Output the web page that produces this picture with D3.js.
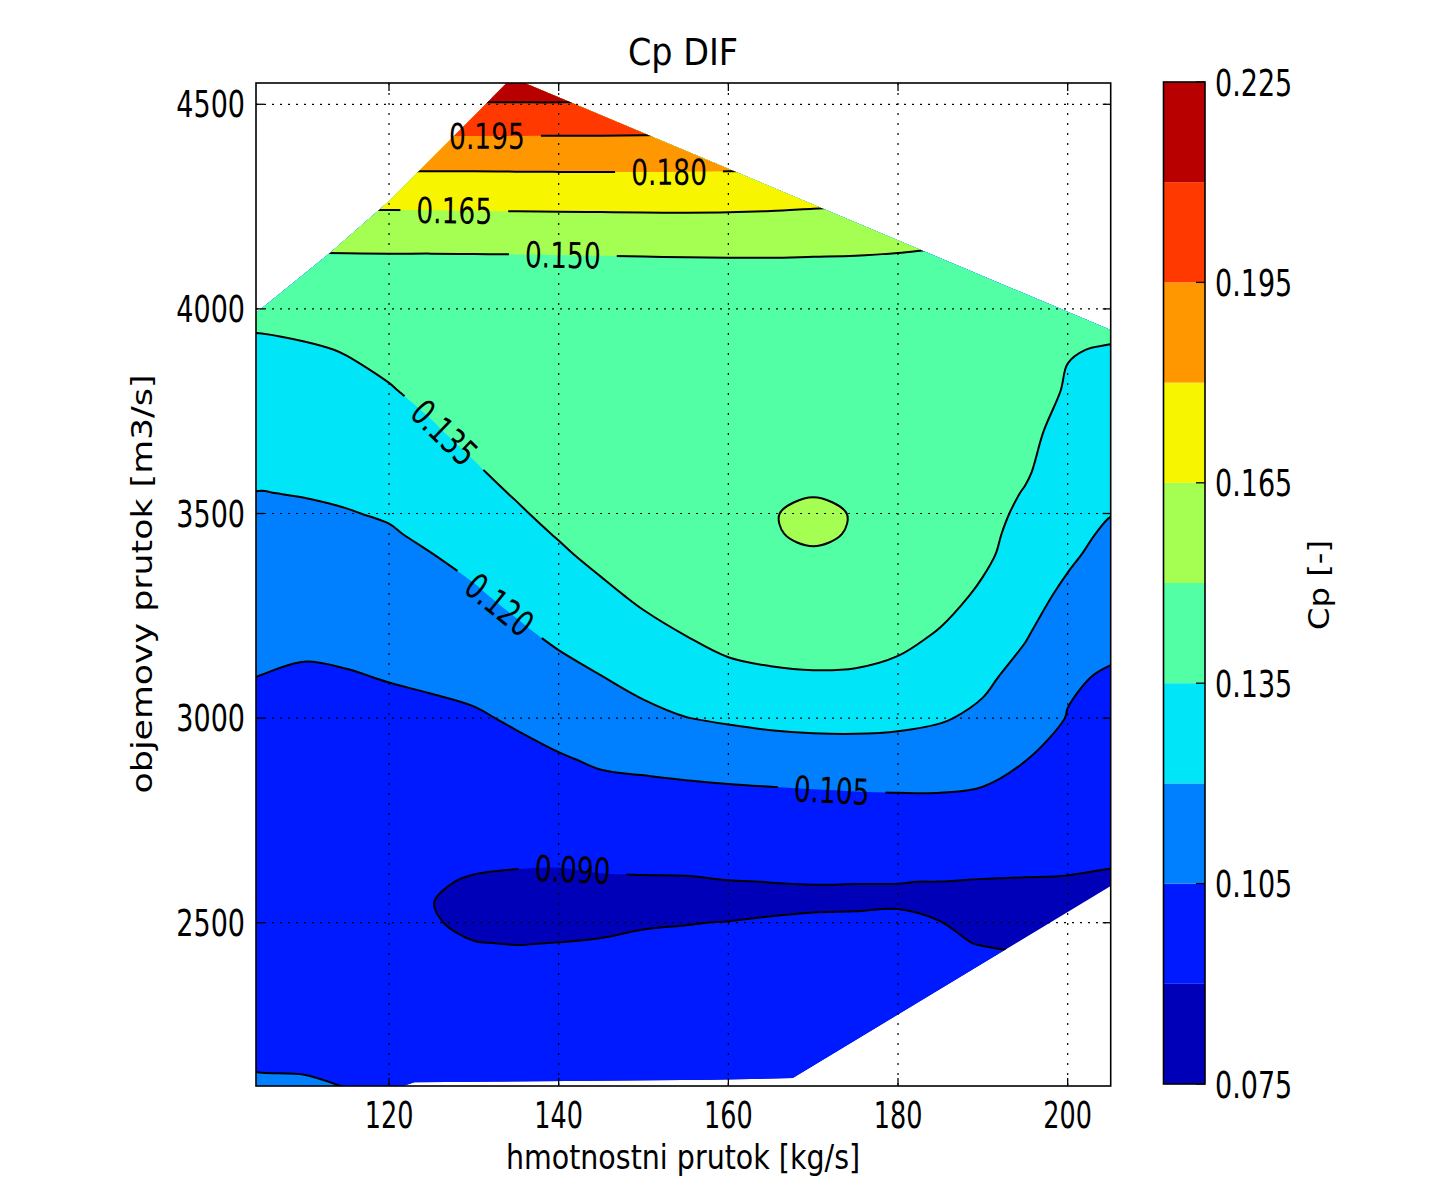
<!DOCTYPE html>
<html>
<head>
<meta charset="utf-8">
<script src="https://cdn.jsdelivr.net/npm/d3@7"></script>
<style>
  body { margin: 0; background: #fff; }
  text { font-family: "DejaVu Sans", sans-serif; fill: #000; }
</style>
</head>
<body>
<svg id="chart" width="1446" height="1179"></svg>
<script>
// grid of the field: columns = mass flow [kg/s], rows = volume flow [m3/s]
const massFlow = [100, 105, 110, 115, 120, 125, 130, 135, 140, 145, 150, 155, 160, 165, 170, 175, 180, 185, 190, 195, 200, 205, 210];
const volumeFlow = [2000, 2100, 2200, 2300, 2400, 2450, 2500, 2550, 2600, 2650, 2700, 2800, 2900, 3000, 3100,
  3200, 3300, 3400, 3450, 3500, 3550, 3600, 3700, 3800, 3900, 4000, 4100, 4200, 4300, 4400, 4500, 4600];

// Cp for each mass flow column, bottom (2000) to top (4600)
const cpColumns = [
  [.1090,.1060,.1037,.1010,.0982,.0968,.0954,.0940,.0951,.0962,.0972,.0994,.1015,.1032,.1062,.1093,.1124,.1155,.11705,.1186,.1203,.1220,.1257,.1294,.1315,.1389,.1445,.1582,.1733,.1907,.2094,.2220],
  [.1090,.1058,.1034,.1006,.0978,.0964,.0949,.0935,.0945,.0956,.0966,.0987,.1007,.1028,.1048,.1081,.1114,.1147,.11635,.1180,.1198,.1216,.1255,.1295,.1320,.1395,.1448,.1585,.1735,.1907,.2094,.2220],
  [.1085,.1058,.1030,.1000,.0971,.0956,.0942,.0932,.0942,.0952,.0962,.0982,.1002,.1022,.1036,.1073,.1111,.1148,.11665,.1185,.12045,.1224,.1263,.1303,.1336,.1405,.1449,.1586,.1735,.1907,.2094,.2220],
  [.1075,.1049,.1019,.0989,.0960,.0945,.0930,.0923,.0934,.0946,.0957,.0979,.1001,.1023,.1042,.1081,.1119,.1157,.1176,.1195,.1215,.1235,.1274,.1314,.1356,.1417,.1451,.1587,.1737,.1908,.2094,.2220],
  [.1065,.1038,.1008,.0979,.0949,.0934,.0919,.0915,.0928,.0940,.0953,.0978,.1003,.1017,.1055,.1093,.1132,.1170,.1190,.1210,.12315,.1253,.1297,.1341,.1388,.1436,.1453,.1588,.1737,.1908,.2094,.2220],
  [.1045,.1018,.0991,.0965,.0938,.0915,.0903,.0901,.0906,.0925,.0950,.0978,.1006,.1025,.1067,.1111,.1154,.1198,.1221,.1244,.1267,.1290,.1336,.1383,.1413,.1450,.1452,.1589,.1738,.1908,.2094,.2220],
  [.1005,.0982,.0959,.0936,.0913,.0901,.08925,.0886,.0895,.0909,.0928,.0965,.1002,.1036,.1085,.1135,.1185,.1235,.1260,.1285,.1310,.1335,.1385,.1410,.1430,.1448,.1453,.1591,.1739,.1908,.2094,.2220],
  [.1000,.0978,.0955,.0933,.0910,.0899,.0889,.0882,.0892,.0905,.0927,.0972,.1016,.1064,.1120,.1176,.1230,.1282,.1308,.1334,.13605,.1387,.1400,.1420,.1440,.1450,.1454,.1593,.1741,.1908,.2094,.2220],
  [.0995,.0974,.0953,.0932,.0911,.09005,.0889,.0879,.0891,.0904,.0934,.0987,.1040,.1100,.1161,.1220,.1275,.1331,.1359,.1387,.1391,.1395,.1410,.1425,.1440,.1450,.1456,.1594,.1743,.1907,.2094,.2220],
  [.0990,.0971,.0951,.0932,.0913,.0903,.0891,.0878,.0893,.0910,.0945,.1005,.1066,.1132,.1197,.1259,.1322,.1384,.13895,.1395,.1400,.1405,.1418,.1432,.1442,.1450,.1459,.1596,.1744,.1907,.2092,.2220],
  [.0985,.0967,.0949,.0931,.0913,.0904,.0898,.0881,.0894,.0912,.0950,.1000,.1083,.1167,.1240,.1307,.1374,.1385,.1390,.1395,.14015,.1408,.1426,.1443,.1450,.1455,.1462,.1598,.1745,.1905,.2090,.2220],
  [.0980,.0964,.0948,.0932,.0915,.0907,.0899,.0885,.0895,.0912,.0955,.1003,.1101,.1198,.1274,.1349,.1375,.1390,.1400,.1410,.1415,.1420,.1431,.1447,.1455,.1460,.1465,.1599,.1744,.1904,.2088,.2220],
  [.0975,.0960,.0945,.0931,.0916,.0908,.0901,.0887,.0898,.0925,.0961,.1009,.1114,.1216,.1306,.1396,.1410,.1430,.1440,.1450,.1443,.1435,.1435,.1450,.1458,.1463,.1467,.1598,.1742,.1902,.2087,.2220],
  [.0970,.0956,.0943,.0929,.0916,.0909,.0905,.0889,.09005,.0933,.0965,.1014,.1126,.1231,.1335,.1391,.1435,.1475,.14947,.1492,.1478,.1445,.1440,.1450,.1460,.1465,.1469,.1594,.1737,.1900,.2085,.2220],
  [.0965,.0952,.0939,.0925,.0912,.0910,.0906,.0894,.0901,.0935,.0968,.1021,.1133,.1239,.1334,.1428,.1465,.14925,.15113,.1530,.14925,.1455,.1450,.1455,.1460,.1465,.1467,.1588,.1727,.1895,.2081,.2210],
  [.0960,.0948,.0936,.0923,.0911,.0907,.0905,.0896,.09005,.0935,.0968,.1027,.1137,.1239,.1330,.1421,.1450,.1475,.14947,.1492,.1478,.1445,.1445,.1452,.1460,.1466,.1465,.1582,.1718,.1888,.2077,.2205],
  [.0955,.0944,.0933,.0921,.0910,.0909,.0908,.0896,.09004,.0935,.0970,.1032,.1136,.1230,.1309,.1388,.1410,.1430,.14375,.1445,.14425,.1440,.1440,.1447,.1455,.1462,.1457,.1574,.1708,.1879,.2070,.2200],
  [.0950,.0940,.0930,.0920,.0910,.0906,.09005,.0893,.08995,.0935,.0968,.1034,.1125,.1211,.1273,.1336,.1400,.1415,.1420,.1425,.14285,.1432,.1438,.1444,.1450,.1450,.1445,.1562,.1694,.1871,.2062,.2190],
  [.0945,.0937,.0929,.0921,.0913,.0898,.0890,.0888,.0897,.0918,.0962,.1028,.1096,.1175,.1225,.1276,.1327,.1378,.13865,.1395,.14025,.1410,.1420,.1430,.1440,.1450,.1465,.1533,.1667,.1855,.2050,.2180],
  [.0940,.0932,.0924,.0916,.0906,.0895,.0888,.0887,.0895,.0918,.0947,.1000,.1053,.1105,.1156,.1208,.1245,.1284,.13035,.1323,.13425,.1362,.1380,.1400,.1420,.1440,.1460,.1520,.1640,.1830,.2030,.2170],
  [.0935,.0928,.0921,.0914,.0903,.0893,.0887,.0886,.0895,.0911,.0931,.0968,.1005,.1046,.1062,.1115,.1175,.1220,.1235,.1250,.1265,.1280,.1310,.1340,.1355,.1390,.1430,.1510,.1630,.1810,.2010,.2160],
  [.0930,.0924,.0918,.0911,.0902,.0893,.0886,.0885,.0891,.0905,.0920,.0950,.0980,.1010,.1040,.1075,.1117,.1159,.11815,.1204,.12215,.1239,.1274,.1308,.1343,.1394,.1420,.1500,.1620,.1790,.1990,.2150],
  [.0925,.0920,.0914,.0908,.0899,.0892,.0886,.0885,.0890,.0902,.0918,.0946,.0975,.1003,.1032,.1060,.1103,.1146,.1168,.1190,.12075,.1225,.1262,.1300,.1338,.1370,.1400,.1480,.1600,.1770,.1970,.2140]
];

// outline of the measured region (outside it the field is undefined)
const hullMass   = [104.0, 121.5, 123.0, 158.0, 167.6, 205.07, 205.07, 134.5, 119.76, 113.24, 104.32];
const hullVolume = [2095, 2100, 2110, 2116, 2120.5, 2590, 3948.5, 4565, 4259, 4140, 3990];

const levels = [0.075, 0.09, 0.105, 0.12, 0.135, 0.15, 0.165, 0.18, 0.195, 0.21, 0.225];
const colorbarTicks = [0.075, 0.105, 0.135, 0.165, 0.195, 0.225];
const xTicks = [120, 140, 160, 180, 200];
const yTicks = [2500, 3000, 3500, 4000, 4500];

// where the inline labels go (data coords), snapped onto the line
const labelSpots = [
  { level: 0.195, x: 131.55, y: 4437 },
  { level: 0.18,  x: 153.0,  y: 4344 },
  { level: 0.165, x: 127.7,  y: 4254 },
  { level: 0.15,  x: 140.5,  y: 4142 },
  { level: 0.135, x: 126.8,  y: 3704 },
  { level: 0.12,  x: 133.1,  y: 3279 },
  { level: 0.105, x: 172.2,  y: 2834 },
  { level: 0.09,  x: 141.7,  y: 2639 }
];

const palette = ['#0000b9', '#001aff', '#0080ff', '#00e5f7', '#52ffa4',
                 '#a4ff52', '#f7f500', '#ff9700', '#ff3900', '#b90000'];

const plot = { left: 256, right: 1110.7, top: 83, bottom: 1086 };
const svg = d3.select('#chart');

const x = d3.scaleLinear().domain([104.32, 205.07]).range([plot.left, plot.right]);
const y = d3.scaleLinear().domain([2101, 4552]).range([plot.bottom, plot.top]);

// flatten grid for d3.contours (row major, row = volume flow index)
const nx = massFlow.length, ny = volumeFlow.length;
const values = new Array(nx * ny);
cpColumns.forEach((col, i) => col.forEach((v, j) => { values[j * nx + i] = v; }));

// contour grid coords -> data (sample i sits at i + 0.5)
const gx = d3.scaleLinear().domain(massFlow.map((d, i) => i + 0.5)).range(massFlow);
const gy = d3.scaleLinear().domain(volumeFlow.map((d, j) => j + 0.5)).range(volumeFlow);
const toPx = ([cx, cy]) => [x(gx(cx)), y(gy(cy))];

const contours = d3.contours().size([nx, ny]).thresholds(levels.slice(0, -1))(values);

// drop points that sit almost on top of each other, they kink the spline
function cleanRing(pts) {
  const out = [];
  pts.forEach(p => {
    const q = out[out.length - 1];
    if (!q || Math.hypot(p[0] - q[0], p[1] - q[1]) > 4) out.push(p);
  });
  if (out.length > 3) {
    const a = out[0], b = out[out.length - 1];
    if (Math.hypot(a[0] - b[0], a[1] - b[1]) < 4) out.pop();
  }
  return out;
}

const smooth = d3.line().curve(d3.curveCatmullRomClosed.alpha(0.5));
const contourPath = c => c.coordinates
  .map(poly => poly.map(ring => smooth(cleanRing(ring.slice(0, -1).map(toPx)))).join(''))
  .join('');

const defs = svg.append('defs');
defs.append('clipPath').attr('id', 'plotClip')
  .append('rect')
  .attr('x', plot.left).attr('y', plot.top)
  .attr('width', plot.right - plot.left).attr('height', plot.bottom - plot.top);
defs.append('clipPath').attr('id', 'hullClip')
  .append('polygon')
  .attr('points', hullMass.map((m, i) => [x(m), y(hullVolume[i])].join(',')).join(' '));

const plotArea = svg.append('g').attr('clip-path', 'url(#plotClip)');
const field = plotArea.append('g').attr('clip-path', 'url(#hullClip)');

field.selectAll('path.band')
  .data(contours)
  .enter()
  .append('path')
  .attr('class', 'band')
  .attr('d', contourPath)
  .attr('fill', (d, i) => palette[i])
  .attr('fill-rule', 'evenodd')
  .attr('stroke', 'none');

// dotted grid
const grid = plotArea.append('g')
  .attr('stroke', '#000').attr('stroke-width', 1.2).attr('fill', 'none');
grid.selectAll('line.gx').data(xTicks).enter().append('line')
  .attr('x1', d => x(d)).attr('x2', d => x(d))
  .attr('y1', plot.top).attr('y2', plot.bottom)
  .attr('stroke-dasharray', '2,8');
grid.selectAll('line.gy').data(yTicks).enter().append('line')
  .attr('y1', d => y(d)).attr('y2', d => y(d))
  .attr('x1', plot.left).attr('x2', plot.right)
  .attr('stroke-dasharray', '2,6');

// contour lines, broken under the labels
const mask = defs.append('mask').attr('id', 'labelMask')
  .attr('maskUnits', 'userSpaceOnUse')
  .attr('x', 0).attr('y', 0).attr('width', 1446).attr('height', 1179);
mask.append('rect').attr('width', 1446).attr('height', 1179).attr('fill', '#fff');

const lineGroup = plotArea.append('g').attr('clip-path', 'url(#hullClip)')
  .append('g').attr('mask', 'url(#labelMask)');
lineGroup.selectAll('path')
  .data(contours.slice(1))
  .enter()
  .append('path')
  .attr('d', contourPath)
  .attr('fill', 'none')
  .attr('stroke', '#000')
  .attr('stroke-width', 2);

function spotOnLine(level, px, py) {
  const c = contours.find(d => Math.abs(d.value - level) < 1e-9);
  let best = { d: Infinity };
  c.coordinates.forEach(poly => poly.forEach(ring => {
    const pts = cleanRing(ring.map(toPx));
    for (let k = 0; k < pts.length - 1; k++) {
      const [ax, ay] = pts[k], [bx, by] = pts[k + 1];
      const dx = bx - ax, dy = by - ay, len2 = dx * dx + dy * dy || 1;
      const t = Math.max(0, Math.min(1, ((px - ax) * dx + (py - ay) * dy) / len2));
      const qx = ax + t * dx, qy = ay + t * dy;
      const dist = Math.hypot(px - qx, py - qy);
      if (dist < best.d) {
        const p0 = pts[Math.max(0, k - 1)], p1 = pts[Math.min(pts.length - 1, k + 2)];
        best = { d: dist, x: qx, y: qy,
                 angle: Math.atan2(p1[1] - p0[1], p1[0] - p0[0]) * 180 / Math.PI };
      }
    }
  }));
  if (best.angle > 90) best.angle -= 180;
  if (best.angle < -90) best.angle += 180;
  return best;
}

const labelGroup = svg.append('g');
labelSpots.forEach(s => {
  const p = spotOnLine(s.level, x(s.x), y(s.y));
  const g = labelGroup.append('g')
    .attr('transform', `translate(${p.x},${p.y}) rotate(${p.angle}) scale(1,1.35)`);
  const t = g.append('text')
    .attr('text-anchor', 'middle')
    .attr('dy', '0.36em')
    .style('font-size', '26.5px')
    .text(d3.format('.3f')(s.level));
  const w = t.node().getComputedTextLength() + 32;
  mask.append('rect')
    .attr('transform', `translate(${p.x},${p.y}) rotate(${p.angle})`)
    .attr('x', -w / 2).attr('y', -12).attr('width', w).attr('height', 24)
    .attr('fill', '#000');
});

// frame and ticks
svg.append('rect')
  .attr('x', plot.left).attr('y', plot.top)
  .attr('width', plot.right - plot.left).attr('height', plot.bottom - plot.top)
  .attr('fill', 'none').attr('stroke', '#000').attr('stroke-width', 1.6);

const ticks = svg.append('g').attr('stroke', '#000').attr('stroke-width', 1.3);
xTicks.forEach(t => {
  ticks.append('line').attr('x1', x(t)).attr('x2', x(t)).attr('y1', plot.bottom).attr('y2', plot.bottom - 8);
  ticks.append('line').attr('x1', x(t)).attr('x2', x(t)).attr('y1', plot.top).attr('y2', plot.top + 8);
});
yTicks.forEach(t => {
  ticks.append('line').attr('y1', y(t)).attr('y2', y(t)).attr('x1', plot.left).attr('x2', plot.left + 8);
  ticks.append('line').attr('y1', y(t)).attr('y2', y(t)).attr('x1', plot.right).attr('x2', plot.right - 8);
});

svg.append('g').selectAll('text')
  .data(xTicks).enter().append('text')
  .attr('transform', d => `translate(${x(d)},1127.5) scale(1,1.45)`)
  .attr('text-anchor', 'middle')
  .style('font-size', '25.5px')
  .text(d => d);

svg.append('g').selectAll('text')
  .data(yTicks).enter().append('text')
  .attr('transform', d => `translate(245,${y(d)}) scale(1,1.35)`)
  .attr('text-anchor', 'end')
  .attr('dy', '0.36em')
  .style('font-size', '27px')
  .text(d => d);

svg.append('text')
  .attr('transform', 'translate(683,65) scale(1,1.12)')
  .attr('text-anchor', 'middle')
  .style('font-size', '33.5px')
  .text('Cp DIF');

svg.append('text')
  .attr('transform', 'translate(683,1169) scale(1,1.2)')
  .attr('text-anchor', 'middle')
  .style('font-size', '28.5px')
  .text('hmotnostni prutok [kg/s]');

svg.append('text')
  .attr('transform', 'translate(151.7,584) rotate(-90) scale(1.22,1)')
  .attr('text-anchor', 'middle')
  .style('font-size', '28.5px')
  .text('objemovy prutok [m3/s]');

// colorbar
const cb = { left: 1163.5, right: 1205, top: 82, bottom: 1084 };
const cbScale = d3.scaleLinear().domain([0.075, 0.225]).range([cb.bottom, cb.top]);
const cbGroup = svg.append('g');
cbGroup.selectAll('rect.cb')
  .data(d3.pairs(levels))
  .enter().append('rect')
  .attr('x', cb.left).attr('width', cb.right - cb.left)
  .attr('y', d => cbScale(d[1]))
  .attr('height', d => cbScale(d[0]) - cbScale(d[1]))
  .attr('fill', (d, i) => palette[i]);
cbGroup.append('rect')
  .attr('x', cb.left).attr('y', cb.top)
  .attr('width', cb.right - cb.left).attr('height', cb.bottom - cb.top)
  .attr('fill', 'none').attr('stroke', '#000').attr('stroke-width', 1.6);
cbGroup.selectAll('line')
  .data(colorbarTicks).enter().append('line')
  .attr('x1', cb.right).attr('x2', cb.right - 9)
  .attr('y1', d => cbScale(d)).attr('y2', d => cbScale(d))
  .attr('stroke', '#000').attr('stroke-width', 1.3);
cbGroup.selectAll('text')
  .data(colorbarTicks).enter().append('text')
  .attr('transform', d => `translate(1215,${cbScale(d)}) scale(1,1.4)`)
  .attr('dy', '0.36em')
  .style('font-size', '27px')
  .text(d3.format('.3f'));

svg.append('text')
  .attr('transform', 'translate(1329,585) rotate(-90) scale(1.13,1)')
  .attr('text-anchor', 'middle')
  .style('font-size', '28.5px')
  .text('Cp [-]');
</script>
</body>
</html>
